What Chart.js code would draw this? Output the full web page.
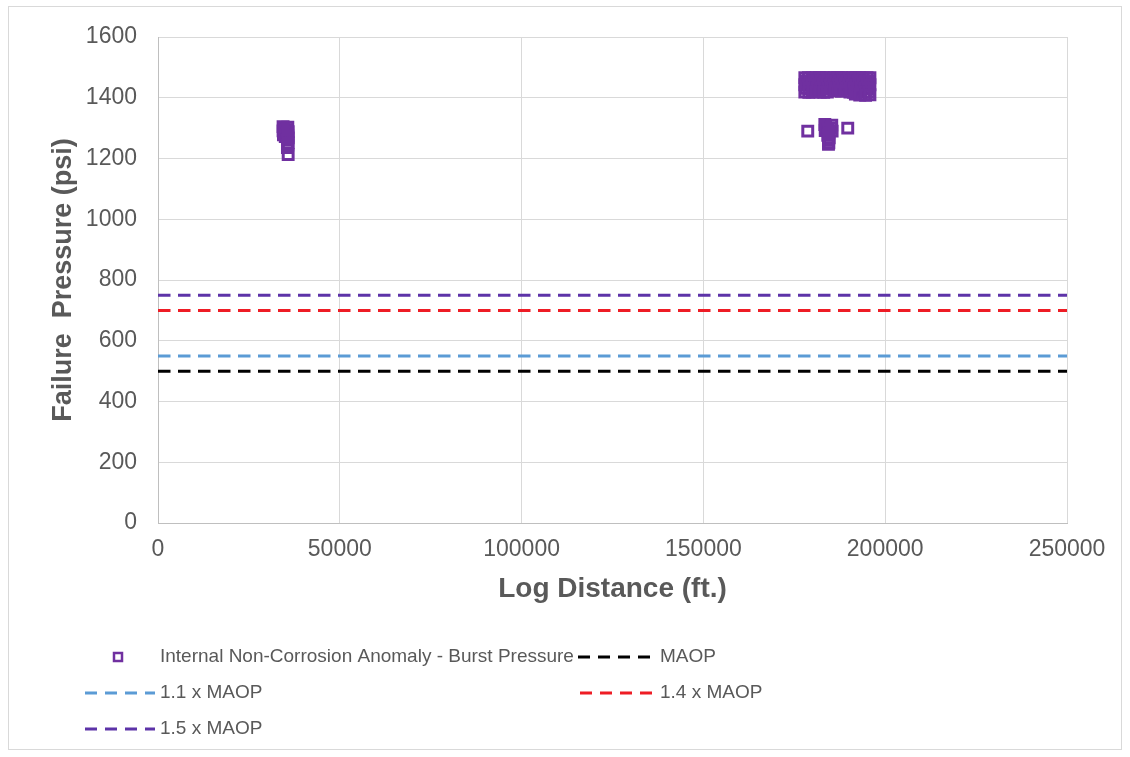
<!DOCTYPE html>
<html>
<head>
<meta charset="utf-8">
<script src="https://cdn.jsdelivr.net/npm/chart.js@4.4.1/dist/chart.umd.min.js"></script>
<style>
  html, body { margin: 0; padding: 0; background: #fff; }
  #wrap { position: relative; width: 1130px; height: 757px; }
  #frame { position: absolute; left: 8px; top: 6px; width: 1114px; height: 744px; border: 1px solid #d9d9d9; box-sizing: border-box; pointer-events: none; }
</style>
</head>
<body>
<div id="wrap">
  <canvas id="chart" width="1130" height="757"></canvas>
  <div id="frame"></div>
</div>
<script>
// burst pressure readings, [log distance ft, psi]
var westCluster = [
    [34400, 1305], [35700, 1303], [34600, 1298], [35500, 1295], [34400, 1291],
    [35800, 1288], [34700, 1284], [35600, 1281], [34500, 1278], [35700, 1275],
    [35000, 1272], [35800, 1268], [35600, 1262], [35800, 1252], [35700, 1244],
    [35600, 1236], [35800, 1213]
];
var eastCluster = [
    [177900, 1466], [178900, 1466], [179900, 1465], [181000, 1466], [182000, 1467],
    [183000, 1466], [184000, 1465], [185000, 1466], [186000, 1466], [187000, 1467],
    [188000, 1466], [189000, 1465], [190000, 1466], [191000, 1466], [192000, 1467],
    [193000, 1466], [194000, 1465], [195000, 1466], [195800, 1466],
    [178200, 1455], [179200, 1454], [180300, 1455], [181300, 1456], [182300, 1455],
    [183300, 1454], [184300, 1455], [185400, 1455], [186400, 1456], [187400, 1454],
    [188400, 1455], [189400, 1455], [190400, 1454], [191400, 1455], [192400, 1456],
    [193400, 1455], [194400, 1454], [195400, 1455],
    [177900, 1443], [178800, 1442], [179800, 1443], [180800, 1444], [181900, 1443],
    [182900, 1442], [183900, 1443], [184900, 1443], [185900, 1442], [186900, 1444],
    [187900, 1443], [188900, 1442], [189900, 1443], [190900, 1443], [191900, 1442],
    [192900, 1444], [193900, 1443], [194900, 1442], [195800, 1443],
    [178100, 1431], [179100, 1430], [180200, 1431], [181200, 1432], [182200, 1431],
    [183200, 1430], [184200, 1431], [185200, 1431], [186300, 1430], [187300, 1432],
    [188300, 1431], [189300, 1430], [190300, 1431], [191300, 1431], [192300, 1430],
    [193300, 1432], [194300, 1431], [195300, 1430],
    [177900, 1419], [179000, 1418], [180000, 1419], [181000, 1420], [182100, 1419],
    [183100, 1418], [184100, 1419], [190300, 1419], [191300, 1418], [192300, 1420],
    [193300, 1419], [194300, 1418], [195500, 1419],
    [186200, 1423], [187900, 1421], [191800, 1412], [193000, 1409], [194600, 1408],
    [195800, 1410],
    [178700, 1290], [189700, 1300],
    [183400, 1312], [185300, 1310], [183600, 1302], [185200, 1300], [183500, 1292],
    [185400, 1290], [184300, 1296], [184500, 1284], [184200, 1276], [184600, 1268],
    [184400, 1260], [184500, 1252], [184400, 1247]
];

// reference lines
var lineEnds = [0, 250000];
var maop = 500;
var maop11 = 550;
var maop14 = 700;
var maop15 = 750;

var xTicks = [0, 50000, 100000, 150000, 200000, 250000];
var yTicks = [0, 200, 400, 600, 800, 1000, 1200, 1400, 1600];

var fontFamily = "'Liberation Sans', Arial, sans-serif";
var textColor = '#595959';
var dash = [12.5, 7.5];

function pts(list) {
    return list.map(function (p) { return { x: p[0], y: p[1] }; });
}
function flat(v) {
    return lineEnds.map(function (x) { return { x: x, y: v }; });
}
function refLine(label, v, color) {
    return {
        type: 'line', label: label, data: flat(v),
        borderColor: color, backgroundColor: color, borderWidth: 3,
        borderDash: dash, pointRadius: 0, showLine: true, fill: false
    };
}

var burstColor = '#7030a0';

var datasets = [
    {
        type: 'scatter',
        label: 'Internal Non-Corrosion Anomaly - Burst Pressure',
        data: pts(westCluster).concat(pts(eastCluster)),
        pointStyle: 'rect', pointRadius: 7, borderWidth: 3,
        borderColor: burstColor, backgroundColor: 'rgba(0,0,0,0)'
    },
    refLine('MAOP', maop, '#000000'),
    refLine('1.1 x MAOP', maop11, '#5b9bd5'),
    refLine('1.4 x MAOP', maop14, '#ee1c25'),
    refLine('1.5 x MAOP', maop15, '#5d33a8')
];

// legend laid out like the spreadsheet one: 3 rows, 2 columns
var legendSlots = [
    { x: 118, y: 657, text: 160 },
    { x: 578, y: 657, text: 660 },
    { x: 85, y: 693, text: 160 },
    { x: 580, y: 693, text: 660 },
    { x: 85, y: 729, text: 160 }
];
var legendOrder = [0, 1, 2, 3, 4];

var legendPlugin = {
    id: 'sheetLegend',
    afterDraw: function (chart) {
        var ctx = chart.ctx;
        ctx.save();
        ctx.font = "19px " + fontFamily;
        ctx.fillStyle = textColor;
        ctx.textBaseline = 'middle';
        legendOrder.forEach(function (di, i) {
            var ds = chart.data.datasets[di];
            var s = legendSlots[i];
            if (ds.type === 'scatter') {
                ctx.strokeStyle = ds.borderColor;
                ctx.lineWidth = 2.5;
                ctx.strokeRect(s.x - 4, s.y - 4, 8, 8);
            } else {
                ctx.strokeStyle = ds.borderColor;
                ctx.lineWidth = 3;
                ctx.setLineDash([12, 8]);
                ctx.beginPath();
                ctx.moveTo(s.x, s.y);
                ctx.lineTo(s.text - 5, s.y);
                ctx.stroke();
                ctx.setLineDash([]);
            }
            ctx.fillText(ds.label, s.text, s.y);
        });
        ctx.restore();
    }
};

new Chart(document.getElementById('chart'), {
    type: 'scatter',
    data: { datasets: datasets },
    plugins: [legendPlugin],
    options: {
        responsive: false,
        animation: false,
        layout: { padding: { left: 8, right: 63, top: 37, bottom: 144 } },
        plugins: {
            legend: { display: false },
            tooltip: { enabled: false }
        },
        scales: {
            x: {
                type: 'linear', min: 0, max: 250000,
                afterBuildTicks: function (scale) {
                    scale.ticks = xTicks.map(function (v) { return { value: v }; });
                },
                afterFit: function (scale) { scale.height = 90; },
                grid: { color: '#d9d9d9', drawTicks: false, lineWidth: 1 },
                border: { color: '#bfbfbf', width: 1 },
                ticks: {
                    padding: 13, color: textColor,
                    font: { family: fontFamily, size: 23 },
                    maxRotation: 0,
                    callback: function (v) { return String(v); }
                },
                title: {
                    display: true, text: 'Log Distance (ft.)', color: textColor,
                    font: { family: fontFamily, size: 28, weight: 'bold' },
                    padding: { top: 0, bottom: 7 }
                }
            },
            y: {
                type: 'linear', min: 0, max: 1600,
                afterBuildTicks: function (scale) {
                    scale.ticks = yTicks.map(function (v) { return { value: v }; });
                },
                afterFit: function (scale) { scale.width = 150; },
                grid: { color: '#d9d9d9', drawTicks: false, lineWidth: 1 },
                border: { color: '#bfbfbf', width: 1 },
                ticks: {
                    padding: 21, color: textColor,
                    font: { family: fontFamily, size: 23 },
                    callback: function (v) { return String(v); }
                },
                title: {
                    display: true, text: 'Failure  Pressure (psi)', color: textColor,
                    font: { family: fontFamily, size: 27, weight: 'bold' },
                    padding: { top: 39, bottom: 0 }
                }
            }
        }
    }
});
</script>
</body>
</html>
